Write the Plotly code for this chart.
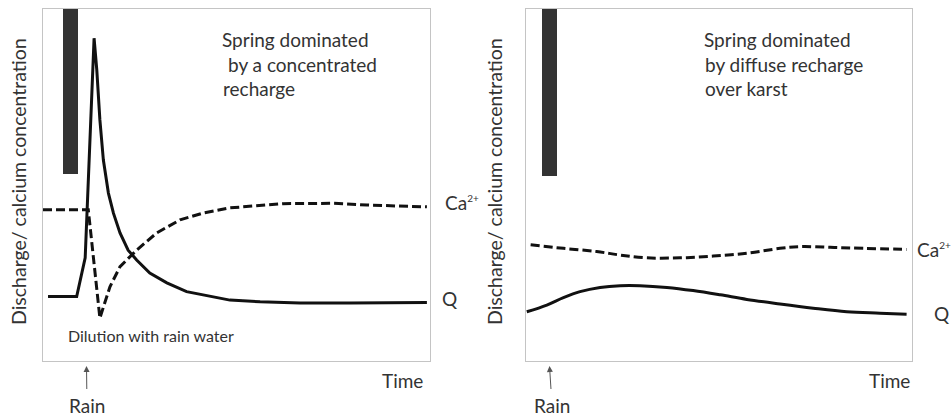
import plotly.graph_objects as go

# ---------------- data (arbitrary units, axes 0-100) ----------------
# Left panel: spring dominated by concentrated recharge
left_q_time = [1.3, 8.7, 10.9, 13.2, 13.9, 14.7, 15.6, 16.9, 18.2, 19.9, 22.0, 24.2, 27.6,
               32.0, 37.1, 43.2, 48.3, 56.1, 66.4, 79.3, 92.2, 99.2]
left_q_val = [18.3, 18.3, 29.3, 91.7, 82.7, 68.5, 57.1, 47.7, 42.0, 36.4, 31.5, 28.7, 25.0,
              22.2, 19.7, 18.3, 17.3, 16.8, 16.5, 16.5, 16.6, 16.6]
left_ca_time = [0.0, 11.7, 14.7, 17.3, 19.9, 24.2, 29.4, 35.4, 41.3, 48.3, 62.0, 74.9, 83.7, 99.2]
left_ca_val = [43.0, 43.0, 12.2, 21.1, 26.8, 31.5, 36.4, 40.1, 42.0, 43.5, 44.7, 44.8, 44.3, 43.8]

# Right panel: spring dominated by diffuse recharge over karst
right_q_time = [0.2, 5.4, 9.7, 14.0, 19.2, 24.4, 29.5, 36.5, 43.3, 50.3, 57.2, 65.8, 74.4,
                83.1, 91.7, 98.6]
right_q_val = [14.0, 15.9, 18.0, 19.7, 20.9, 21.4, 21.4, 20.9, 20.0, 18.8, 17.5, 16.2, 15.0,
               14.0, 13.6, 13.3]
right_ca_time = [1.2, 9.7, 18.3, 24.4, 31.3, 39.9, 48.5, 57.2, 65.8, 71.0, 78.8, 87.4, 98.6]
right_ca_val = [33.0, 32.0, 31.1, 30.1, 29.3, 29.3, 29.8, 30.6, 32.0, 32.5, 32.3, 32.0, 31.7]

# Rain bars (time position, bottom, top)
rain_time = [7.1, 6.1]
rain_bottom = [53.1, 52.6]
rain_top = [100.0, 100.0]
rain_width = 3.9

# ---------------- figure ----------------
W, H = 952, 419
LINE = "#111111"
TXT = "#333333"
FONT = "Lato"

fig = go.Figure()

for i, (xa, ya) in enumerate([("x", "y"), ("x2", "y2")]):
    fig.add_trace(go.Bar(x=[rain_time[i]], y=[rain_top[i] - rain_bottom[i]], base=[rain_bottom[i]],
                         width=[rain_width], marker=dict(color="#333333", line=dict(width=0)),
                         xaxis=xa, yaxis=ya, showlegend=False, hoverinfo="skip"))

fig.add_trace(go.Scatter(x=left_ca_time, y=left_ca_val, mode="lines",
                         line=dict(color=LINE, width=3, dash="9px,4px"), xaxis="x", yaxis="y",
                         showlegend=False))
fig.add_trace(go.Scatter(x=left_q_time, y=left_q_val, mode="lines",
                         line=dict(color=LINE, width=3), xaxis="x", yaxis="y", showlegend=False))
fig.add_trace(go.Scatter(x=right_ca_time, y=right_ca_val, mode="lines", line_shape="spline",
                         line=dict(color=LINE, width=3, dash="9px,4px"), xaxis="x2", yaxis="y2",
                         showlegend=False))
fig.add_trace(go.Scatter(x=right_q_time, y=right_q_val, mode="lines", line_shape="spline",
                         line=dict(color=LINE, width=3), xaxis="x2", yaxis="y2", showlegend=False))

ax_common = dict(range=[0, 100], showgrid=False, zeroline=False, showticklabels=False, ticks="",
                 showline=True, mirror=True, linecolor="#c4c4c4", linewidth=1, fixedrange=True)

ydom = [(H - 361) / H, (H - 9) / H]
fig.update_layout(
    width=W, height=H, margin=dict(l=0, r=0, t=0, b=0),
    paper_bgcolor="white", plot_bgcolor="white", bargap=0,
    xaxis=dict(domain=[43 / W, 430 / W], anchor="y", **ax_common),
    yaxis=dict(domain=ydom, anchor="x", **ax_common),
    xaxis2=dict(domain=[526 / W, 912 / W], anchor="y2", **ax_common),
    yaxis2=dict(domain=ydom, anchor="x2", **ax_common),
)


def px(x):
    return x / W


def py(y):
    return 1 - y / H


def txt(text, x, y, size=19, xanchor="left", angle=0):
    fig.add_annotation(text=text, x=px(x), y=py(y), xref="paper", yref="paper",
                       xanchor=xanchor, yanchor="middle", showarrow=False, textangle=angle,
                       font=dict(family=FONT, size=size, color=TXT))


# panel titles
txt("Spring dominated", 220, 39)
txt("by a concentrated", 226, 64)
txt("recharge", 221, 89)
txt("Spring dominated", 702, 39)
txt("by diffuse recharge", 703, 64)
txt("over karst", 703, 89)

# series labels
CA = "Ca<sup><span style='font-size:10px'>2+</span></sup>"
txt(CA, 443, 203)
txt("Q", 440, 298)
txt(CA, 915, 249)
txt("Q", 932, 313)

txt("Dilution with rain water", 66, 335, size=16)

# axis labels
txt("Time", 425, 380, xanchor="right")
txt("Time", 912, 380, xanchor="right")
txt("Discharge/ calcium concentration", 18, 182, size=19.5, xanchor="center", angle=-90)
txt("Discharge/ calcium concentration", 494, 182, size=19.5, xanchor="center", angle=-90)

# "Rain" labels with arrows pointing up to the time axis
for tip_x, lab_x in ((86.5, 87), (549.5, 552)):
    fig.add_annotation(x=px(tip_x), y=py(366), xref="paper", yref="paper", text="Rain",
                       showarrow=True, ax=lab_x - tip_x, ay=405 - 366, arrowhead=2, arrowsize=1.2,
                       arrowwidth=1, arrowcolor="#555555", startstandoff=3,
                       font=dict(family=FONT, size=19, color=TXT))

fig.write_html("out.html")
